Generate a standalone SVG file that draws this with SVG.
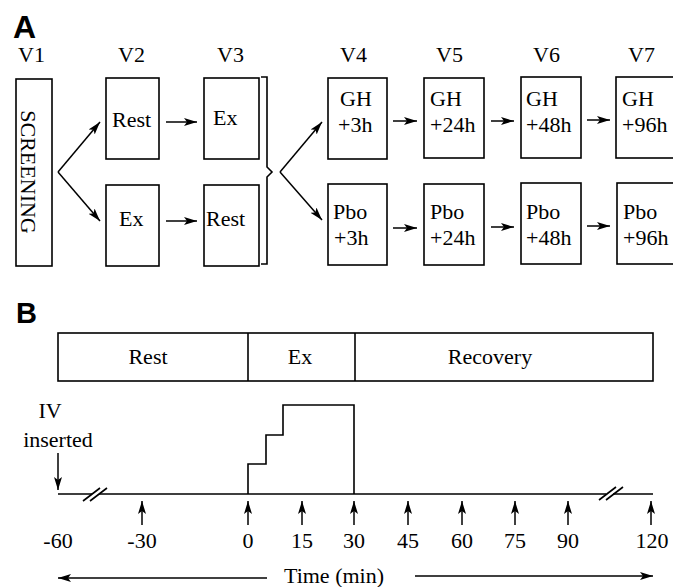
<svg xmlns="http://www.w3.org/2000/svg" width="673" height="587" viewBox="0 0 673 587">
<style>
.t{font-family:"Liberation Serif","Times New Roman",serif;font-size:22px;fill:#000}
.h{font-family:"Liberation Sans",Arial,sans-serif;font-weight:bold;fill:#000}
.box{fill:#fff;stroke:#000;stroke-width:1.6}
.ln{fill:none;stroke:#000;stroke-width:1.6}
.ar{fill:none;stroke:#000;stroke-width:1.5;marker-end:url(#ah)}
</style>
<defs>
<marker id="ah" markerUnits="userSpaceOnUse" markerWidth="15" markerHeight="10" refX="13" refY="5" orient="auto">
<path d="M0,1 L13,5 L0,9 L3,5 Z" fill="#000"/>
</marker>
</defs>
<rect width="673" height="587" fill="#fff"/>
<text class="h" x="13" y="38" font-size="32">A</text>
<text class="h" x="16" y="323" font-size="29">B</text>
<g id="labels">
<text class="t" x="18" y="62">V1</text>
<text class="t" x="118" y="62">V2</text>
<text class="t" x="217" y="62">V3</text>
<text class="t" x="340" y="62">V4</text>
<text class="t" x="436" y="62">V5</text>
<text class="t" x="533" y="62">V6</text>
<text class="t" x="628" y="62">V7</text>
</g>
<g id="v1"><rect class="box" x="16" y="79" width="36" height="187"/><text class="t" transform="translate(21,172) rotate(90)" text-anchor="middle">SCREENING</text></g>
<g id="v2a"><rect class="box" x="106" y="78" width="53" height="81"/><text class="t" x="112" y="127">Rest</text></g>
<g id="v2b"><rect class="box" x="106" y="185" width="53" height="81"/><text class="t" x="119" y="226">Ex</text></g>
<g id="v3a"><rect class="box" x="204" y="78" width="55" height="81"/><text class="t" x="213" y="125">Ex</text></g>
<g id="v3b"><rect class="box" x="204" y="185" width="55" height="81"/><text class="t" x="206" y="226">Rest</text></g>
<g id="v4a"><rect class="box" x="328" y="78" width="59" height="81"/><text class="t" x="340" y="106">GH</text><text class="t" x="338" y="132">+3h</text></g>
<g id="v4b"><rect class="box" x="328" y="184" width="59" height="81"/><text class="t" x="333" y="219">Pbo</text><text class="t" x="334" y="245">+3h</text></g>
<g id="v5a"><rect class="box" x="424" y="78" width="60" height="80"/><text class="t" x="430" y="106">GH</text><text class="t" x="430" y="132">+24h</text></g>
<g id="v5b"><rect class="box" x="424" y="184" width="60" height="81"/><text class="t" x="430" y="219">Pbo</text><text class="t" x="430" y="245">+24h</text></g>
<g id="v6a"><rect class="box" x="521" y="77" width="60" height="81"/><text class="t" x="526" y="106">GH</text><text class="t" x="526" y="132">+48h</text></g>
<g id="v6b"><rect class="box" x="521" y="183" width="60" height="81"/><text class="t" x="526" y="219">Pbo</text><text class="t" x="526" y="245">+48h</text></g>
<g id="v7a"><rect class="box" x="616" y="77" width="62" height="81"/><text class="t" x="622" y="106">GH</text><text class="t" x="622" y="132">+96h</text></g>
<g id="v7b"><rect class="box" x="617" y="183" width="62" height="81"/><text class="t" x="623" y="219">Pbo</text><text class="t" x="623" y="245">+96h</text></g>
<g id="connectors">
<path class="ln" d="M261,77 H267 V167 L272,172 L267,177 V264 H261"/>
<line class="ar" x1="58" y1="172" x2="100" y2="122"/>
<line class="ar" x1="58" y1="172" x2="100" y2="221"/>
<line class="ar" x1="166" y1="122" x2="197" y2="122"/>
<line class="ar" x1="166" y1="221" x2="197" y2="221"/>
<line class="ar" x1="280" y1="172" x2="322" y2="122"/>
<line class="ar" x1="280" y1="172" x2="322" y2="220"/>
<line class="ar" x1="393" y1="121" x2="417" y2="121"/>
<line class="ar" x1="393" y1="228" x2="417" y2="228"/>
<line class="ar" x1="491" y1="121" x2="514" y2="121"/>
<line class="ar" x1="491" y1="227" x2="514" y2="227"/>
<line class="ar" x1="587" y1="120" x2="610" y2="120"/>
<line class="ar" x1="587" y1="226" x2="610" y2="226"/>
</g>
<g id="phases">
<rect class="box" x="58" y="333" width="595" height="48"/>
<line class="ln" x1="248" y1="333" x2="248" y2="381"/>
<line class="ln" x1="355" y1="333" x2="355" y2="381"/>
<text class="t" x="148" y="364" text-anchor="middle">Rest</text>
<text class="t" x="300" y="364" text-anchor="middle">Ex</text>
<text class="t" x="490" y="364" text-anchor="middle" font-size="23">Recovery</text>
</g>
<g id="timeline">
<path class="ln" d="M58,494 H92 M99,494 H606 M613,494 H653"/>
<path class="ln" d="M83,501 L100,488 M90,501 L107,488 M599,500 L616,487 M606,500 L623,487"/>
<path class="ln" d="M248,494 V464 H266 V435 H283 V405 H354 V494"/>
<text class="t" x="50" y="418" text-anchor="middle">IV</text>
<text class="t" x="58" y="447" text-anchor="middle">inserted</text>
<line class="ar" x1="58" y1="453" x2="58" y2="490"/>
<line class="ar" x1="142" y1="525" x2="142" y2="501"/>
<line class="ar" x1="248" y1="525" x2="248" y2="501"/>
<line class="ar" x1="302" y1="525" x2="302" y2="501"/>
<line class="ar" x1="354" y1="525" x2="354" y2="501"/>
<line class="ar" x1="408" y1="525" x2="408" y2="501"/>
<line class="ar" x1="462" y1="525" x2="462" y2="501"/>
<line class="ar" x1="515" y1="525" x2="515" y2="501"/>
<line class="ar" x1="568" y1="525" x2="568" y2="501"/>
<line class="ar" x1="651" y1="525" x2="651" y2="501"/>
<text class="t" x="58" y="548" text-anchor="middle">-60</text>
<text class="t" x="142" y="548" text-anchor="middle">-30</text>
<text class="t" x="248" y="548" text-anchor="middle">0</text>
<text class="t" x="302" y="548" text-anchor="middle">15</text>
<text class="t" x="354" y="548" text-anchor="middle">30</text>
<text class="t" x="408" y="548" text-anchor="middle">45</text>
<text class="t" x="462" y="548" text-anchor="middle">60</text>
<text class="t" x="515" y="548" text-anchor="middle">75</text>
<text class="t" x="568" y="548" text-anchor="middle">90</text>
<text class="t" x="652" y="548" text-anchor="middle">120</text>
<text class="t" x="334" y="583" text-anchor="middle" font-size="24">Time (min)</text>
<line class="ar" x1="267" y1="578" x2="58" y2="578"/>
<line class="ar" x1="415" y1="576" x2="653" y2="576"/>
</g>
</svg>
